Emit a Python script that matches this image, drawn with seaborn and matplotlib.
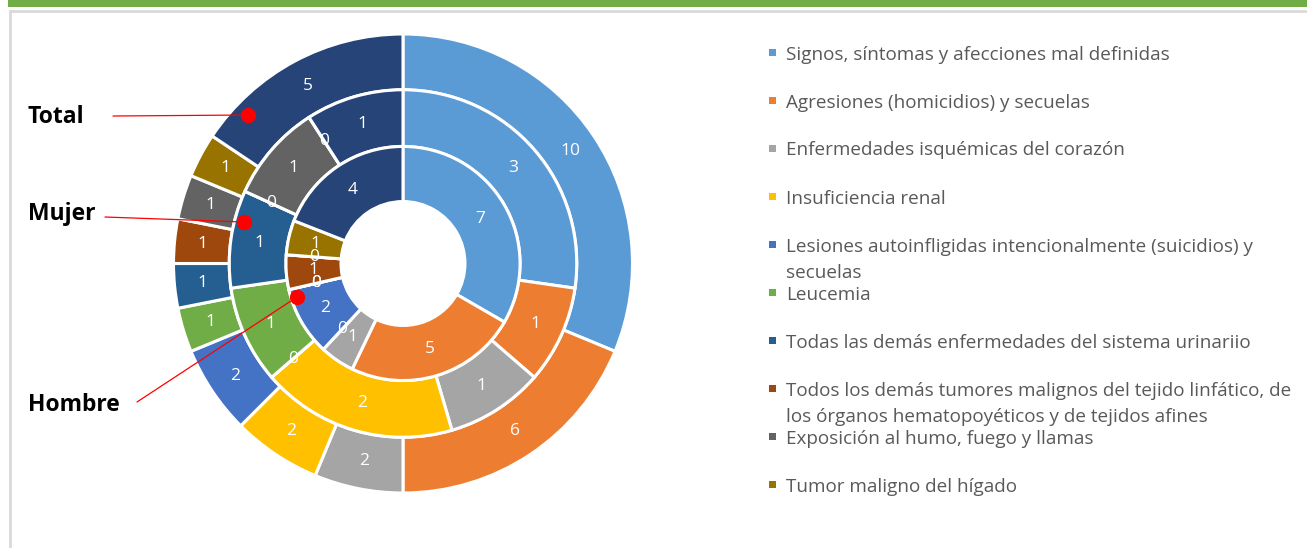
import seaborn as sns
import matplotlib.pyplot as plt
from matplotlib.lines import Line2D
from matplotlib.patches import Rectangle

causas = ["Signos, síntomas y afecciones mal definidas",
          "Agresiones (homicidios) y secuelas",
          "Enfermedades isquémicas del corazón",
          "Insuficiencia renal",
          "Lesiones autoinfligidas intencionalmente (suicidios) y\nsecuelas",
          "Leucemia",
          "Todas las demás enfermedades del sistema urinariio",
          "Todos los demás tumores malignos del tejido linfático, de\nlos órganos hematopoyéticos y de tejidos afines",
          "Exposición al humo, fuego y llamas",
          "Tumor maligno del hígado",
          "Demás causas"]

total = [10, 6, 2, 2, 2, 1, 1, 1, 1, 1, 5]
mujer = [3, 1, 1, 2, 0, 1, 1, 0, 1, 0, 1]
hombre = [7, 5, 1, 0, 2, 0, 0, 1, 0, 1, 4]

colores = ["#5B9BD5", "#ED7D31", "#A5A5A5", "#FFC000", "#4472C4", "#70AD47",
           "#255E91", "#9E480E", "#636363", "#997300", "#264478"]

sns.set_theme(style="white")
plt.rcParams['font.family'] = ['Open Sans', 'DejaVu Sans']

W, H = 1307, 548
fig = plt.figure(figsize=(W / 100, H / 100), dpi=100)

def fx(px):
    return px / W

def fy(py):
    return 1 - py / H

# pie axes: centre (403, 263.5) px, radius 229.5 px
cx, cy, R = 403, 263.5, 229.5
ax = fig.add_axes([fx(cx - R), fy(cy + R), 2 * R / W, 2 * R / H])

pal = sns.color_palette(colores)
anillos = [(total, 1.0, 0.243), (mujer, 0.757, 0.247), (hombre, 0.51, 0.24)]
for vals, rad, ancho in anillos:
    suma = sum(vals)
    ax.pie(vals, radius=rad, colors=pal, startangle=90, counterclock=False,
           wedgeprops=dict(width=ancho, edgecolor="white", linewidth=2.2),
           autopct=lambda p, s=suma: f"{p * s / 100:.0f}",
           pctdistance=(rad - ancho / 2) / rad,
           textprops=dict(color="white", fontsize=12.5))
ax.set_xlim(-1, 1)
ax.set_ylim(-1, 1)
ax.set_aspect("equal")
ax.axis("off")

# frame and top band
fig.add_artist(Rectangle((fx(8), fy(7)), 1 - fx(8), 7 / H, transform=fig.transFigure,
                         color="#70AD47", lw=0))
fig.add_artist(Line2D([fx(10), 1], [fy(11), fy(11)], transform=fig.transFigure,
                      color="#D9D9D9", lw=2))
fig.add_artist(Line2D([fx(10), fx(10)], [fy(11), 0], transform=fig.transFigure,
                      color="#D9D9D9", lw=2))

# ring annotations
notas = [("Total", 123, (113, 116), (248, 115)),
         ("Mujer", 220, (105, 217), (244, 222)),
         ("Hombre", 411, (137, 402), (297, 297))]
for txt, base, p0, p1 in notas:
    fig.text(fx(28), fy(base), txt, fontsize=16.5, fontweight="bold", color="black",
             va="baseline", ha="left")
    fig.add_artist(Line2D([fx(p0[0]), fx(p1[0])], [fy(p0[1]), fy(p1[1])],
                          transform=fig.transFigure, color="red", lw=0.9))
    fig.add_artist(Line2D([fx(p1[0])], [fy(p1[1])], transform=fig.transFigure,
                          marker="o", markersize=10, color="red", lw=0))

# legend (first 10 causes)
for i, lab in enumerate(causas[:10]):
    y0 = 52.5 + 48 * i
    fig.add_artist(Rectangle((fx(769), fy(y0 + 3.5)), 7 / W, 7 / H,
                             transform=fig.transFigure, color=colores[i], lw=0))
    for k, linea in enumerate(lab.split("\n")):
        fig.text(fx(786), fy(y0 + 26 * k + 7), linea, fontsize=13.6,
                 color="#595959", va="baseline", ha="left")

fig.savefig("out.png", dpi=100)
